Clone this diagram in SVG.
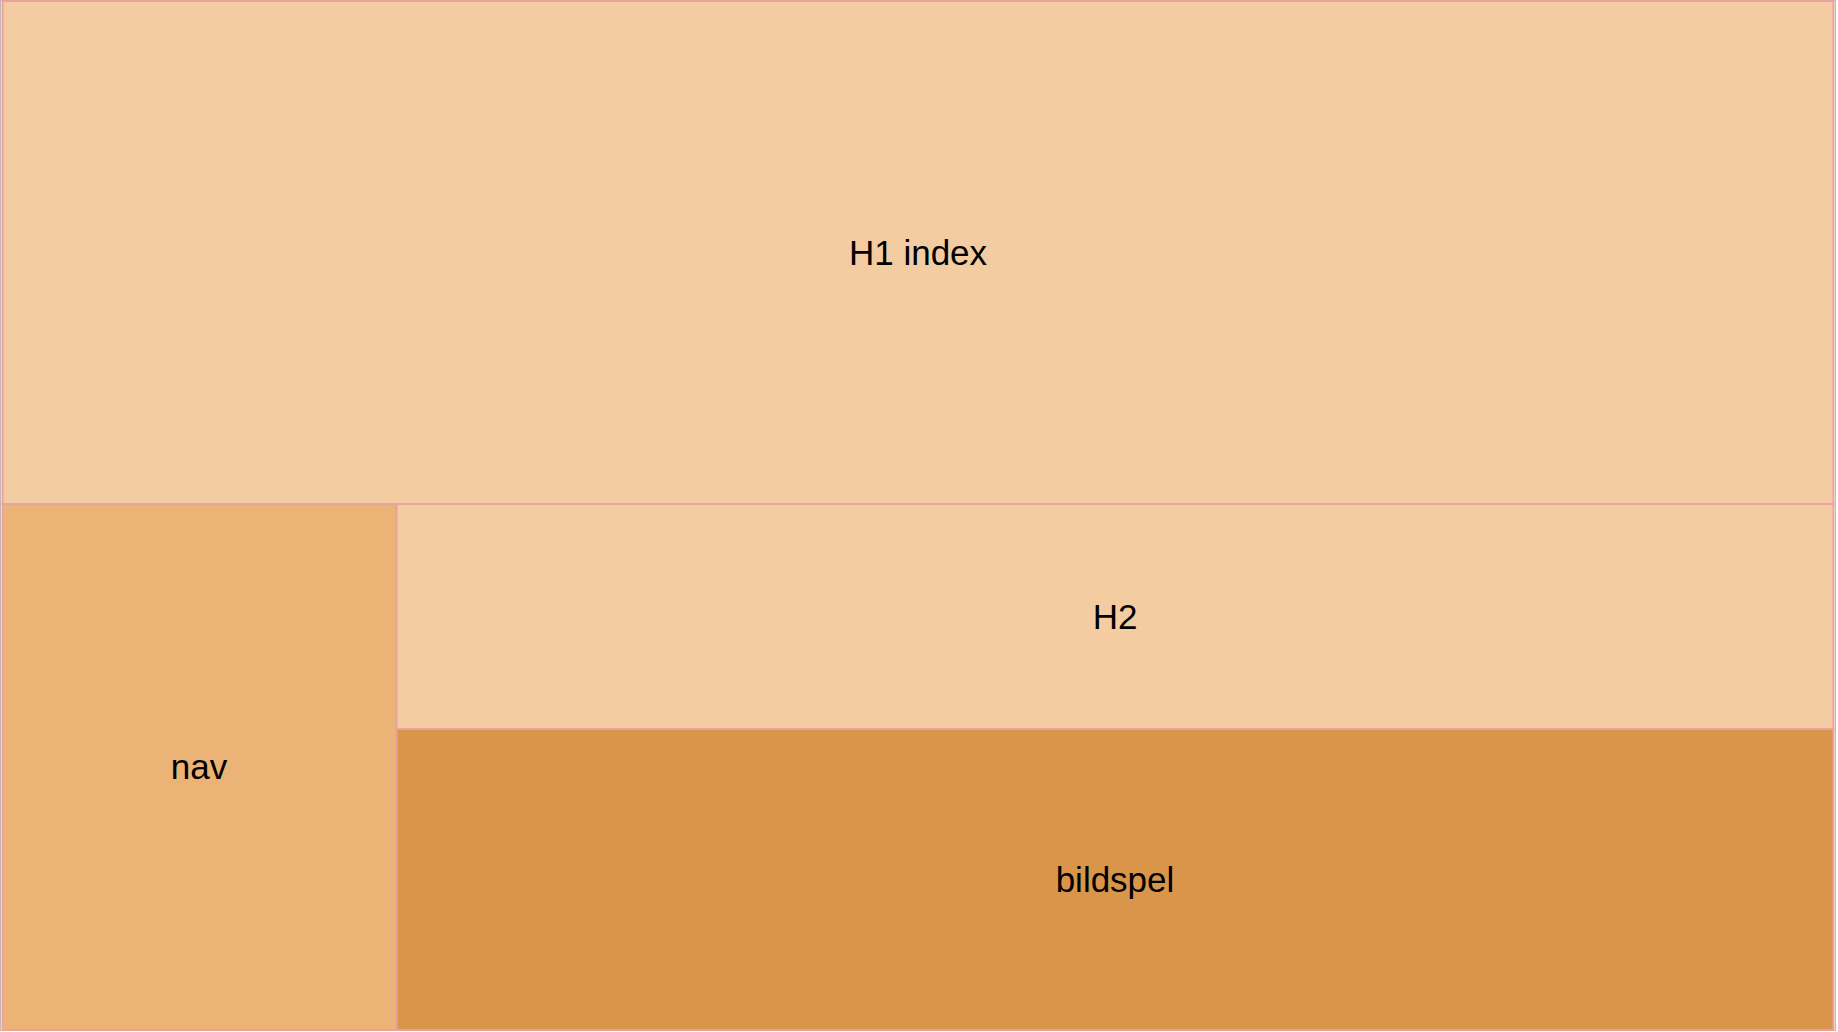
<svg xmlns="http://www.w3.org/2000/svg" width="1838" height="1032" viewBox="0 0 1838 1032">
<style>
.box{stroke:#e6a3a0;stroke-width:2}
.lbl{font-family:"Liberation Sans",Arial,sans-serif;font-size:35px;fill:#000;text-anchor:middle}
</style>
<rect width="1838" height="1032" fill="#ffffff"/>
<rect x="0.5" y="0.5" width="1835" height="1030" fill="none" stroke="#c9b4b4" stroke-width="1"/>
<g id="h1">
<rect class="box" x="2.5" y="1" width="1831" height="503" fill="#f3cca1"/>
<text class="lbl" x="918" y="265">H1 index</text>
</g>
<g id="nav">
<rect class="box" x="2.5" y="504" width="394" height="526" fill="#ebb376"/>
<text class="lbl" x="199" y="779">nav</text>
</g>
<g id="h2">
<rect class="box" x="396.5" y="504" width="1437" height="225" fill="#f3cca1"/>
<text class="lbl" x="1115" y="629">H2</text>
</g>
<g id="bildspel">
<rect class="box" x="396.5" y="729" width="1437" height="301" fill="#d9954a"/>
<text class="lbl" x="1115" y="892">bildspel</text>
</g>
<g id="connectors"/>
</svg>
